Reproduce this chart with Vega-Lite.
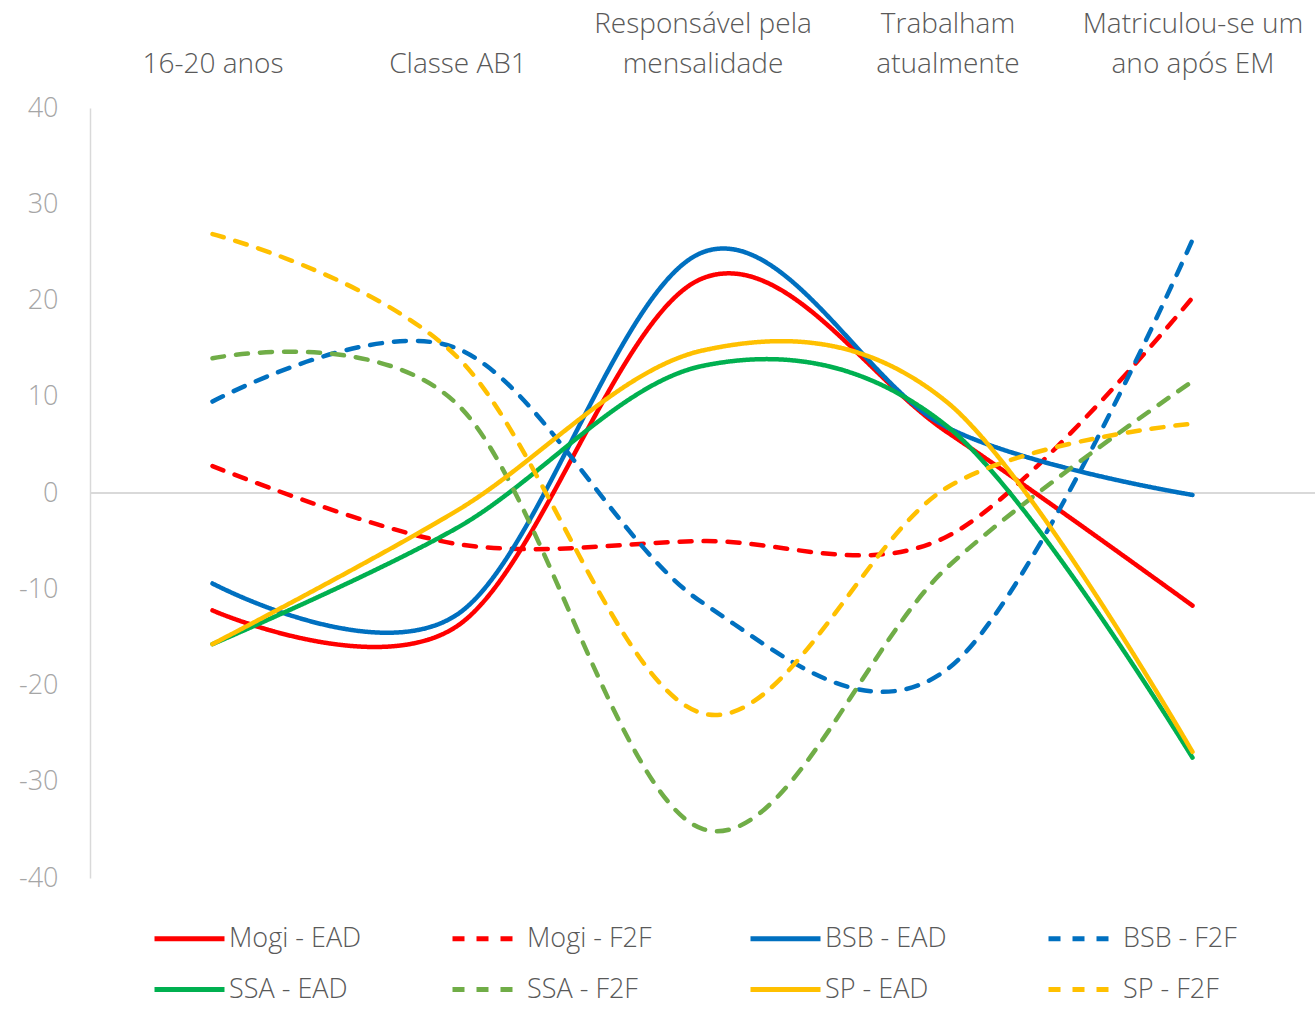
{
  "$schema": "https://vega.github.io/schema/vega-lite/v6.json",
  "width": 1225,
  "height": 770,
  "autosize": {"type": "none"},
  "padding": {"left": 90, "top": 108, "right": 0, "bottom": 131},
  "background": "white",
  "config": {"view": {"stroke": null}, "font": "Open Sans"},
  "data": {"values": [
    {"cat": "16-20 anos", "series": "Mogi - EAD", "value": -12.2},
    {"cat": "Classe AB1", "series": "Mogi - EAD", "value": -13.8},
    {"cat": "Responsável pela mensalidade", "series": "Mogi - EAD", "value": 22.3},
    {"cat": "Trabalham atualmente", "series": "Mogi - EAD", "value": 6.3},
    {"cat": "Matriculou-se um ano após EM", "series": "Mogi - EAD", "value": -11.7},
    {"cat": "16-20 anos", "series": "Mogi - F2F", "value": 2.8},
    {"cat": "Classe AB1", "series": "Mogi - F2F", "value": -5.3},
    {"cat": "Responsável pela mensalidade", "series": "Mogi - F2F", "value": -5.0},
    {"cat": "Trabalham atualmente", "series": "Mogi - F2F", "value": -4.5},
    {"cat": "Matriculou-se um ano após EM", "series": "Mogi - F2F", "value": 20.3},
    {"cat": "16-20 anos", "series": "BSB - EAD", "value": -9.4},
    {"cat": "Classe AB1", "series": "BSB - EAD", "value": -12.6},
    {"cat": "Responsável pela mensalidade", "series": "BSB - EAD", "value": 25.0},
    {"cat": "Trabalham atualmente", "series": "BSB - EAD", "value": 6.8},
    {"cat": "Matriculou-se um ano após EM", "series": "BSB - EAD", "value": -0.2},
    {"cat": "16-20 anos", "series": "BSB - F2F", "value": 9.5},
    {"cat": "Classe AB1", "series": "BSB - F2F", "value": 15.0},
    {"cat": "Responsável pela mensalidade", "series": "BSB - F2F", "value": -11.4},
    {"cat": "Trabalham atualmente", "series": "BSB - F2F", "value": -18.3},
    {"cat": "Matriculou-se um ano após EM", "series": "BSB - F2F", "value": 26.3},
    {"cat": "16-20 anos", "series": "SSA - EAD", "value": -15.7},
    {"cat": "Classe AB1", "series": "SSA - EAD", "value": -3.6},
    {"cat": "Responsável pela mensalidade", "series": "SSA - EAD", "value": 13.2},
    {"cat": "Trabalham atualmente", "series": "SSA - EAD", "value": 6.9},
    {"cat": "Matriculou-se um ano após EM", "series": "SSA - EAD", "value": -27.5},
    {"cat": "16-20 anos", "series": "SSA - F2F", "value": 14.0},
    {"cat": "Classe AB1", "series": "SSA - F2F", "value": 9.2},
    {"cat": "Responsável pela mensalidade", "series": "SSA - F2F", "value": -34.9},
    {"cat": "Trabalham atualmente", "series": "SSA - F2F", "value": -7.7},
    {"cat": "Matriculou-se um ano após EM", "series": "SSA - F2F", "value": 11.6},
    {"cat": "16-20 anos", "series": "SP - EAD", "value": -15.7},
    {"cat": "Classe AB1", "series": "SP - EAD", "value": -1.8},
    {"cat": "Responsável pela mensalidade", "series": "SP - EAD", "value": 14.8},
    {"cat": "Trabalham atualmente", "series": "SP - EAD", "value": 9.4},
    {"cat": "Matriculou-se um ano após EM", "series": "SP - EAD", "value": -26.9},
    {"cat": "16-20 anos", "series": "SP - F2F", "value": 26.9},
    {"cat": "Classe AB1", "series": "SP - F2F", "value": 14.1},
    {"cat": "Responsável pela mensalidade", "series": "SP - F2F", "value": -22.9},
    {"cat": "Trabalham atualmente", "series": "SP - F2F", "value": 0.6},
    {"cat": "Matriculou-se um ano após EM", "series": "SP - F2F", "value": 7.2}
  ]},
  "layer": [
    {
      "mark": {"type": "rule", "color": "#D9D9D9", "strokeWidth": 1.5},
      "encoding": {
        "y": {"datum": 0, "type": "quantitative", "scale": {"domain": [-40, 40]},
          "axis": {"title": null, "values": [-40, -30, -20, -10, 0, 10, 20, 30, 40], "grid": false, "ticks": false, "domainColor": "#D9D9D9", "domainWidth": 1.5, "labelFontSize": 27, "labelFontWeight": 300, "labelColor": "#A6A6A6", "labelPadding": 32, "labelExpr": "replace(datum.label, '−', '-')"}}
      }
    },
    {
      "mark": {"type": "line", "interpolate": "cardinal", "strokeWidth": 4.5, "strokeCap": "round"},
      "encoding": {
        "x": {"field": "cat", "type": "ordinal",
          "sort": ["16-20 anos", "Classe AB1", "Responsável pela mensalidade", "Trabalham atualmente", "Matriculou-se um ano após EM"],
          "scale": {"type": "point", "padding": 0.5},
          "axis": {"orient": "top", "title": null, "domain": false, "ticks": false, "labelAngle": 0, "labelFontSize": 28, "labelFontWeight": 300, "labelColor": "#595959", "labelPadding": 70, "labelLineHeight": 40, "labelLimit": 400,
            "labelExpr": "datum.label == 'Responsável pela mensalidade' ? ['Responsável pela', 'mensalidade'] : datum.label == 'Trabalham atualmente' ? ['Trabalham', 'atualmente'] : datum.label == 'Matriculou-se um ano após EM' ? ['Matriculou-se um', 'ano após EM'] : ['', datum.label]"}
        },
        "y": {"field": "value", "type": "quantitative", "scale": {"domain": [-40, 40]},
          "axis": {"title": null, "values": [-40, -30, -20, -10, 0, 10, 20, 30, 40], "grid": false, "ticks": false, "domainColor": "#D9D9D9", "domainWidth": 1.5, "labelFontSize": 27, "labelFontWeight": 300, "labelColor": "#A6A6A6", "labelPadding": 32, "labelExpr": "replace(datum.label, '−', '-')"}},
        "color": {"field": "series", "type": "nominal",
          "scale": {"domain": ["Mogi - EAD", "Mogi - F2F", "BSB - EAD", "BSB - F2F", "SSA - EAD", "SSA - F2F", "SP - EAD", "SP - F2F"],
                    "range": ["#FF0000", "#FF0000", "#0070C0", "#0070C0", "#00B050", "#70AD47", "#FFC000", "#FFC000"]},
          "legend": {"title": null, "orient": "none", "legendX": 62, "legendY": 793, "direction": "horizontal", "columns": 4, "gridAlign": "all", "symbolType": "stroke", "symbolSize": 4900, "symbolStrokeWidth": 5, "labelFontSize": 27, "labelFontWeight": 300, "labelColor": "#595959", "labelOffset": 2, "columnPadding": 80, "rowPadding": -18}},
        "strokeDash": {"field": "series", "type": "nominal",
          "scale": {"domain": ["Mogi - EAD", "Mogi - F2F", "BSB - EAD", "BSB - F2F", "SSA - EAD", "SSA - F2F", "SP - EAD", "SP - F2F"],
                    "range": [[1, 0], [12, 12], [1, 0], [12, 12], [1, 0], [12, 12], [1, 0], [12, 12]]},
          "legend": {"title": null, "orient": "none", "legendX": 62, "legendY": 793, "direction": "horizontal", "columns": 4, "gridAlign": "all", "symbolType": "stroke", "symbolSize": 4900, "symbolStrokeWidth": 5, "labelFontSize": 27, "labelFontWeight": 300, "labelColor": "#595959", "labelOffset": 2, "columnPadding": 80, "rowPadding": -18}}
      }
    }
  ]
}
